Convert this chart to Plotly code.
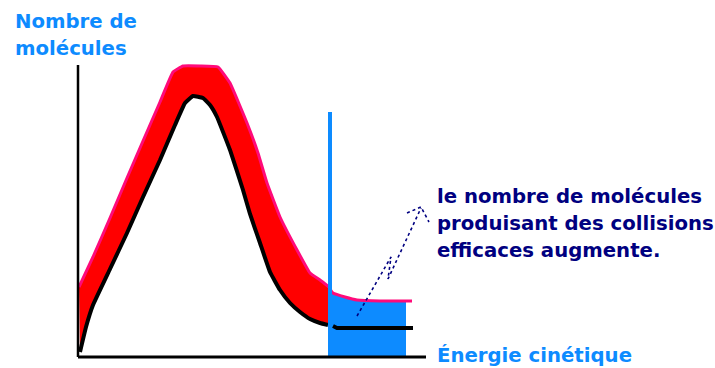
import plotly.graph_objects as go

# Energy (x) and number of molecules (y), arbitrary units
energy_low = [2, 8, 15, 32, 49, 65, 82, 97, 107, 115, 125, 132, 139, 152, 165, 172, 182, 192, 202, 212, 222, 232, 242, 250]
count_low = [5, 30, 52, 88, 124, 160, 197, 232, 254, 261, 259, 252, 240, 207, 167, 143, 114, 85, 67, 54, 45, 38, 34, 32]

energy_low_tail = [255, 259, 335]
count_low_tail = [31, 29, 29]

energy_high = [1, 15, 32, 49, 65, 82, 95, 105, 122, 140, 152, 169, 180, 189, 202, 219, 232, 242, 251]
count_high = [70, 100, 139, 179, 216, 255, 285, 291, 291, 290, 274, 234, 204, 174, 140, 107, 84, 77, 70]

energy_high_tail = [252, 255, 267, 279, 302, 328, 334]
count_high_tail = [68, 64, 60, 57, 56, 56, 56]

activation_energy = 252
activation_top = 245
box_end = 328

axis_x_end = 348
axis_y_end = 292

arrow_e = [279, 313, 310, 343]
arrow_n = [41, 100, 78, 149]
arrowhead_e = [329, 343, 351]
arrowhead_n = [144, 150, 135]

title_y = ["Nombre de", "molécules"]
title_x = "Énergie cinétique"
note_lines = ["le nombre de molécules", "produisant des collisions", "efficaces augmente."]

RED = "#ff0000"
PINK = "#ff0a7a"
BLUE = "#0d8bff"
NAVY = "#000080"
FONT = "DejaVu Sans"
FS = 19.7

fig = go.Figure()

# upper (hot) curve, then lower (cold) curve filled red between them
fig.add_trace(go.Scatter(x=energy_high, y=count_high, mode="lines",
                         line=dict(color=PINK, width=3, shape="spline", smoothing=0.3),
                         hoverinfo="skip"))
fig.add_trace(go.Scatter(x=energy_low, y=count_low, mode="lines", fill="tonexty",
                         fillcolor=RED,
                         line=dict(color="black", width=4, shape="spline", smoothing=0.3),
                         hoverinfo="skip"))

# blue box under the hot curve beyond activation energy
box_e = [e for e in energy_high_tail if e <= box_end]
box_n = [n for e, n in zip(energy_high_tail, count_high_tail) if e <= box_end]
fig.add_trace(go.Scatter(x=box_e, y=box_n, mode="lines", fill="tozeroy",
                         fillcolor=BLUE, line=dict(width=0, color=BLUE),
                         hoverinfo="skip"))
fig.add_trace(go.Scatter(x=energy_high_tail, y=count_high_tail, mode="lines",
                         line=dict(color=PINK, width=3, shape="spline", smoothing=0.3),
                         hoverinfo="skip"))
fig.add_trace(go.Scatter(x=energy_low_tail, y=count_low_tail, mode="lines",
                         line=dict(color="black", width=4),
                         hoverinfo="skip"))

# activation energy line
fig.add_trace(go.Scatter(x=[activation_energy, activation_energy], y=[0, activation_top],
                         mode="lines", line=dict(color=BLUE, width=4), hoverinfo="skip"))

# axes
fig.add_trace(go.Scatter(x=[0, 0], y=[0, axis_y_end], mode="lines",
                         line=dict(color="black", width=2.5), hoverinfo="skip"))
fig.add_trace(go.Scatter(x=[0, axis_x_end], y=[0, 0], mode="lines",
                         line=dict(color="black", width=3), hoverinfo="skip"))

# zig-zag arrow
fig.add_trace(go.Scatter(x=arrow_e, y=arrow_n, mode="lines",
                         line=dict(color=NAVY, width=1.6, dash="dot"), hoverinfo="skip"))
fig.add_trace(go.Scatter(x=arrowhead_e, y=arrowhead_n, mode="lines",
                         line=dict(color=NAVY, width=1.6, dash="dot"), hoverinfo="skip"))

annotations = []
# y-axis title (two lines)
for i, t in enumerate(title_y):
    annotations.append(dict(x=-65, y=336 - 27 * i, xref="x", yref="y", text=t,
                            showarrow=False, xanchor="left", yanchor="middle",
                            font=dict(family=FONT, size=FS, color=BLUE, weight="bold")))
annotations.append(dict(x=357, y=2, xref="x", yref="y", text=title_x,
                        showarrow=False, xanchor="left", yanchor="middle",
                        font=dict(family=FONT, size=FS, color=BLUE, weight="bold")))
for i, t in enumerate(note_lines):
    annotations.append(dict(x=357, y=161 - 27 * i, xref="x", yref="y", text=t,
                            showarrow=False, xanchor="left", yanchor="middle",
                            font=dict(family=FONT, size=FS, color=NAVY, weight="bold")))

fig.update_layout(
    width=715, height=368,
    margin=dict(l=0, r=0, t=0, b=0),
    paper_bgcolor="white", plot_bgcolor="white",
    showlegend=False,
    xaxis=dict(range=[-78, 637], visible=False, fixedrange=True),
    yaxis=dict(range=[-11, 357], visible=False, fixedrange=True),
    annotations=annotations,
)

fig.write_html("out.html", config={"displayModeBar": False},
               post_script="document.body.style.margin='0';document.body.style.overflow='hidden';")
